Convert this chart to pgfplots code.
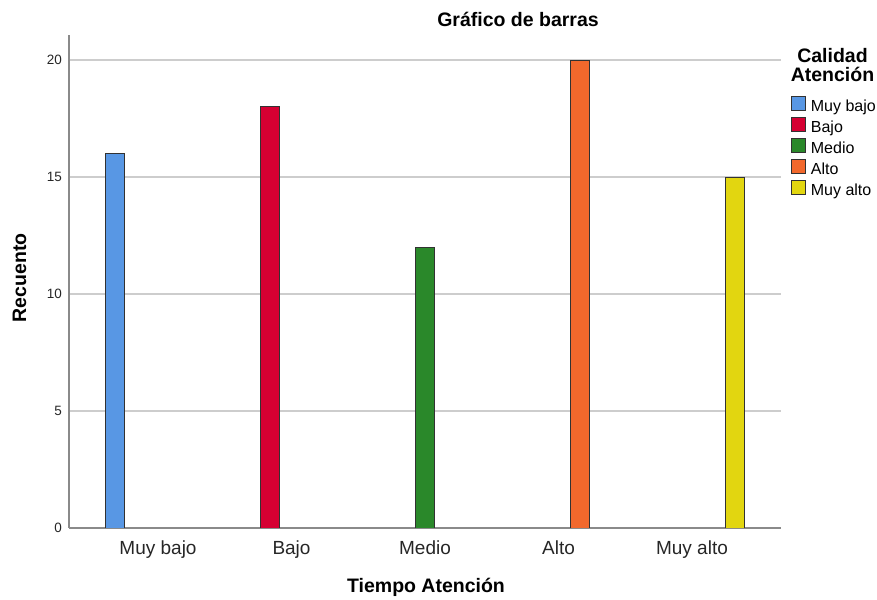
\documentclass[border=0pt]{standalone}
\usepackage{fontspec}
\setmainfont{Liberation Sans}
\usepackage{pgfplots}
\pgfplotsset{compat=1.18}

\definecolor{cMB}{RGB}{88,151,228}
\definecolor{cB}{RGB}{213,0,50}
\definecolor{cM}{RGB}{42,136,42}
\definecolor{cA}{RGB}{242,104,44}
\definecolor{cMA}{RGB}{226,214,16}
\definecolor{barline}{RGB}{50,50,50}
\definecolor{axgray}{RGB}{138,138,138}
\definecolor{gridgray}{RGB}{205,205,205}

\begin{document}
\begin{tikzpicture}[x=1pt,y=1pt]
\useasboundingbox (0,0) rectangle (877,599);
\begin{axis}[
    at={(69pt,71pt)}, anchor=south west,
    scale only axis,
    width=712pt, height=493pt,
    xmin=-0.667, xmax=4.667,
    ymin=0, ymax=21.07,
    axis x line*=bottom, axis y line*=left,
    axis line style={draw=axgray, line width=1.3pt, -},
    ymajorgrids=true,
    grid style={draw=gridgray, line width=1.2pt},
    xtick={0,1,2,3,4},
    xticklabels={Muy bajo,Bajo,Medio,Alto,Muy alto},
    ytick={0,5,10,15,20},
    major tick length=0pt,
    /pgf/number format/assume math mode=true,
    xticklabel style={font=\fontsize{19}{22}\selectfont, text=black!85, anchor=base, yshift=-27pt},
    yticklabel style={font=\fontsize{13.5}{16}\selectfont, text=black!85, anchor=east, inner sep=0pt, xshift=-7pt},
    ybar, bar width=19pt,
    legend style={
        at={(rel axis cs:1.014,0.8763)}, anchor=north west,
        draw=none, fill=none, inner sep=0pt, outer sep=0pt,
        font=\fontsize{16}{18}\selectfont,
        row sep=2pt,
        nodes={inner sep=0pt, text height=11.5pt, text depth=3.5pt, anchor=west},
        /tikz/every odd column/.append style={column sep=5pt},
    },
    legend cell align=left,
    legend image code/.code={\draw[#1] (0pt,-3pt) rectangle (14pt,11pt);},
]
\addplot[fill=cMB, draw=barline, line width=0.9pt, bar shift=-43pt] coordinates {(0,16)};
\addlegendentry{Muy bajo}
\addplot[fill=cB, draw=barline, line width=0.9pt, bar shift=-21.5pt] coordinates {(1,18)};
\addlegendentry{Bajo}
\addplot[fill=cM, draw=barline, line width=0.9pt, bar shift=0pt] coordinates {(2,12)};
\addlegendentry{Medio}
\addplot[fill=cA, draw=barline, line width=0.9pt, bar shift=21.5pt] coordinates {(3,20)};
\addlegendentry{Alto}
\addplot[fill=cMA, draw=barline, line width=0.9pt, bar shift=43pt] coordinates {(4,15)};
\addlegendentry{Muy alto}
\end{axis}
\node[anchor=base, font=\bfseries\fontsize{19.5}{23}\selectfont] at (518,572) {Gráfico de barras};
\node[anchor=base, rotate=90, font=\bfseries\fontsize{19.5}{23}\selectfont] at (26,321) {Recuento};
\node[anchor=base, font=\bfseries\fontsize{19.5}{23}\selectfont] at (426,6) {Tiempo Atención};
\node[anchor=base, font=\bfseries\fontsize{19.5}{23}\selectfont] at (832.5,536) {Calidad};
\node[anchor=base, font=\bfseries\fontsize{19.5}{23}\selectfont] at (832.5,517) {Atención};
\end{tikzpicture}
\end{document}
